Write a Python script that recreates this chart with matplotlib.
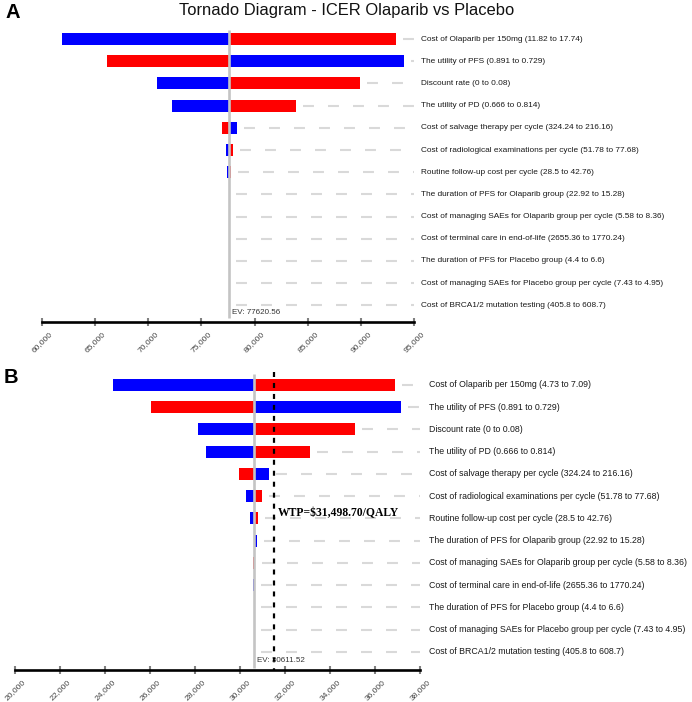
import numpy as np
import matplotlib.pyplot as plt
from matplotlib.transforms import blended_transform_factory

plt.rcParams['font.family'] = ['Liberation Sans', 'DejaVu Sans']
plt.rcParams['lines.scale_dashes'] = False

# parameter labels (same order in both panels)
labels_a = [
    'Cost of Olaparib per 150mg (11.82 to 17.74)',
    'The utility of PFS (0.891 to 0.729)',
    'Discount rate (0 to 0.08)',
    'The utility of PD (0.666 to 0.814)',
    'Cost of salvage therapy per cycle (324.24 to 216.16)',
    'Cost of radiological examinations per cycle (51.78 to 77.68)',
    'Routine follow-up cost per cycle (28.5 to 42.76)',
    'The duration of PFS for Olaparib group (22.92 to 15.28)',
    'Cost of managing SAEs for Olaparib group per cycle (5.58 to 8.36)',
    'Cost of terminal care in end-of-life (2655.36 to 1770.24)',
    'The duration of PFS for Placebo group (4.4 to 6.6)',
    'Cost of managing SAEs for Placebo group per cycle (7.43 to 4.95)',
    'Cost of BRCA1/2 mutation testing (405.8 to 608.7)',
]
labels_b = ['Cost of Olaparib per 150mg (4.73 to 7.09)'] + labels_a[1:]

# panel A: ICER at blue end / red end
ev_a = 77620.56
blue_a = [61910, 94085, 70790, 72200, 78320, 77280, 77400,
          77620.56, 77620.56, 77620.56, 77620.56, 77620.56, 77620.56]
red_a = [93270, 66085, 89920, 83900, 76960, 77940, 77780,
         77620.56, 77620.56, 77620.56, 77620.56, 77620.56, 77620.56]
ticks_a = [60000, 65000, 70000, 75000, 80000, 85000, 90000, 95000]

# panel B
ev_b = 30611.52
wtp = 31498.70
blue_b = [24356, 37129, 28133, 28462, 31276, 30253, 30412,
          30720, 30640, 30580, 30611.52, 30611.52, 30611.52]
red_b = [36862, 26031, 35084, 33084, 29942, 30950, 30791,
         30611.52, 30575, 30611.52, 30611.52, 30611.52, 30611.52]
ticks_b = [20000, 22000, 24000, 26000, 28000, 30000, 32000, 34000, 36000, 38000]

W, H = 692, 702
fig = plt.figure(figsize=(W / 100, H / 100), dpi=100)


def px_axes(left, right, top, bottom):
    return fig.add_axes([left / W, 1 - bottom / H, (right - left) / W, (bottom - top) / H])


def tornado(ax, labels, blue, red, ev, ticks, ylim, ev_span, ev_txt_y, label_off, label_fs):
    ax.set_xlim(ticks[0], ticks[-1])
    ax.set_ylim(*ylim)
    y = np.arange(len(labels))
    blue = np.array(blue)
    red = np.array(red)
    ax.barh(y, blue - ev, left=ev, height=0.54, color='#0000ff', zorder=2)
    ax.barh(y, red - ev, left=ev, height=0.54, color='#ff0000', zorder=2)

    # pixel -> data for short offsets
    bbox = ax.get_position()
    px = (ticks[-1] - ticks[0]) / (bbox.width * W)
    for i in range(len(labels)):
        start = max(blue[i], red[i], ev) + 7 * px
        ax.plot([start, ticks[-1]], [i, i], color='#d9d9d9', lw=1.5,
                dashes=(7.9, 10.1), solid_capstyle='butt', zorder=1)

    tr = blended_transform_factory(ax.transAxes, ax.transData)
    for i, lab in enumerate(labels):
        ax.annotate(lab, xy=(1, i), xycoords=tr, xytext=(label_off, 0),
                    textcoords='offset points', va='center', ha='left',
                    fontsize=label_fs, color='#1a1a1a', annotation_clip=False)

    ax.plot([ev, ev], ev_span, color='#c4c4c4', lw=1.9, zorder=3,
            solid_capstyle='butt')
    ax.annotate('EV: %.2f' % ev, xy=(ev, ev_txt_y), xytext=(2.2, 0),
                textcoords='offset points', va='center', ha='left',
                fontsize=5.8, color='#333333', zorder=5)

    for s in ['top', 'right', 'left']:
        ax.spines[s].set_visible(False)
    ax.spines['bottom'].set_linewidth(1.9)
    ax.spines['bottom'].set_color('black')
    ax.set_yticks([])
    ax.set_xticks(ticks)
    ax.set_xticklabels(['{:,}'.format(t) for t in ticks], rotation=45)
    ax.tick_params(axis='x', direction='inout', length=6, width=1.5,
                   color='#808080', labelsize=6.1, labelcolor='#444444', pad=3)
    ax.patch.set_visible(False)


ax_a = px_axes(42, 414, 28, 322)
tornado(ax_a, labels_a, blue_a, red_a, ev_a, ticks_a, (12.75, -0.5),
        [-0.42, 12.57], 12.34, 5, 5.95)

ax_b = px_axes(15.3, 420.3, 372, 670)
tornado(ax_b, labels_b, blue_b, red_b, ev_b, ticks_b, (12.81, -0.58),
        [-0.5, 12.72], 12.4, 6, 6.35)
ax_b.plot([wtp, wtp], [-0.58, 12.81], color='black', lw=1.6,
          dashes=(3.6, 4.3), zorder=4)
ax_b.annotate('WTP=$31,498.70/QALY', xy=(wtp, 5.75), xytext=(3, 0),
              textcoords='offset points', va='center', ha='left',
              fontsize=8.4, fontweight='bold', family='Liberation Serif',
              color='black', zorder=5)

fig.text(347 / W, 1 - 11 / H, 'Tornado Diagram - ICER Olaparib vs Placebo',
         ha='center', va='center', fontsize=11.9, color='#111111')
fig.text(5 / W, 1 - 12 / H, 'A', ha='left', va='center', fontsize=14.5,
         fontweight='bold')
fig.text(4 / W, 1 - 377 / H, 'B', ha='left', va='center', fontsize=14.5,
         fontweight='bold')

fig.savefig('out.png', dpi=100)
